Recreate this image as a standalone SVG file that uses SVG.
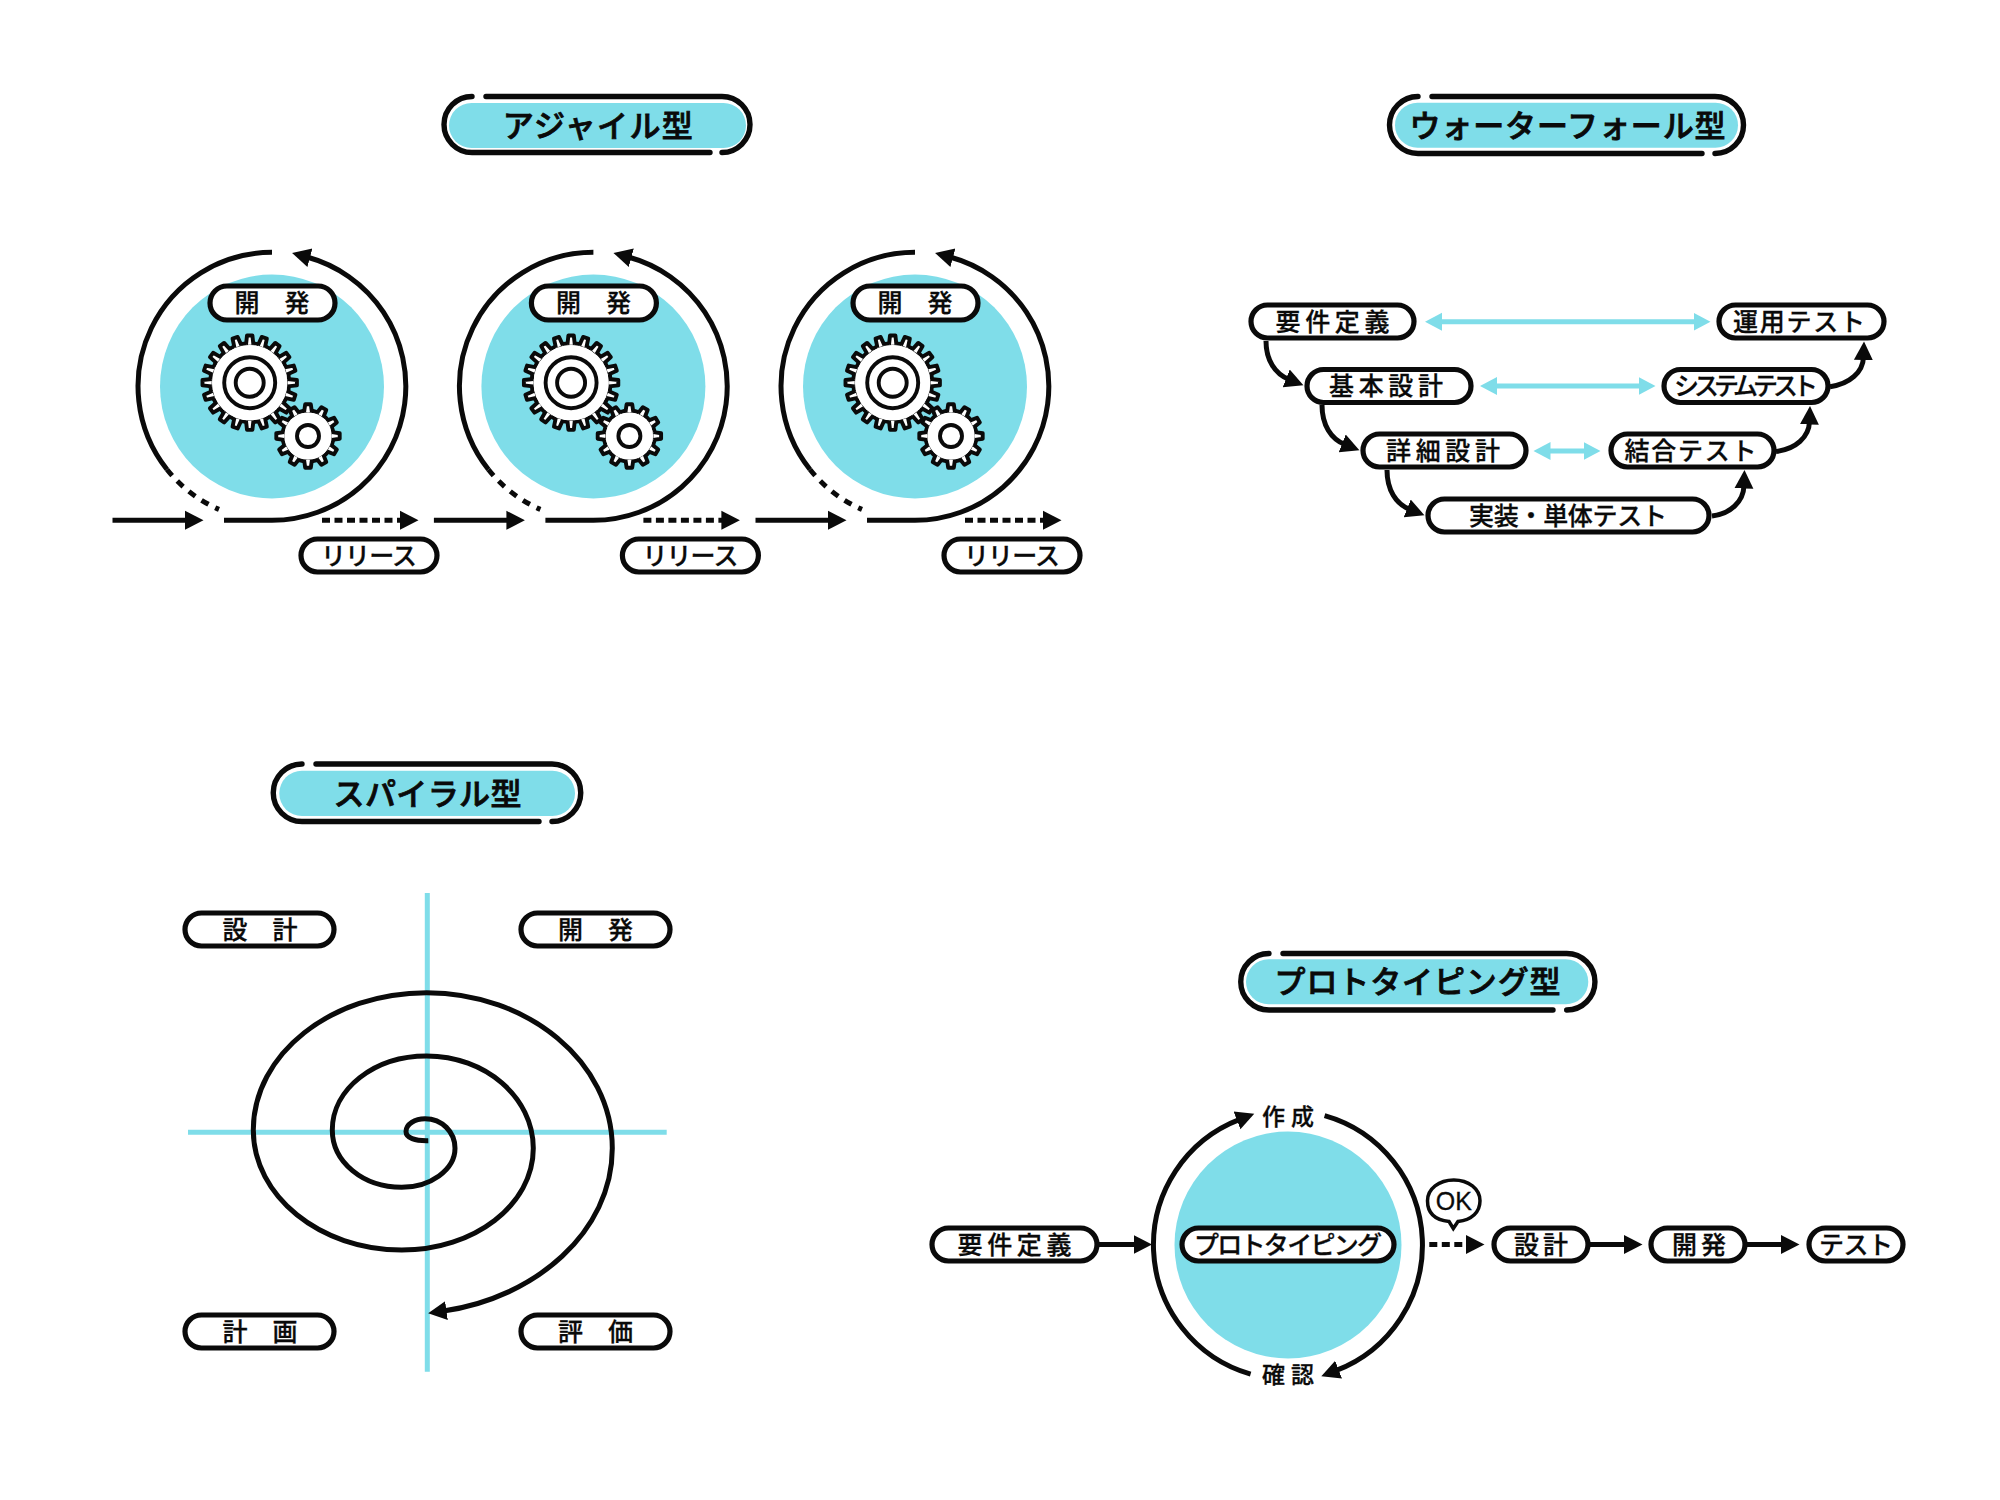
<svg xmlns="http://www.w3.org/2000/svg" xmlns:xlink="http://www.w3.org/1999/xlink" width="2000" height="1500" viewBox="0 0 2000 1500">
<style>
text{font-family:"Noto Sans CJK JP","Noto Sans",sans-serif;font-size:25px;font-weight:500;fill:#0a0a0a;text-anchor:middle;stroke:#0a0a0a;stroke-width:.3px}
.tt{font-size:31px;stroke-width:.8px}
.n{fill:#fff;stroke:#0a0a0a;stroke-width:5.2px}
.o{fill:none;stroke:#0a0a0a;stroke-width:5.4px;stroke-linecap:round}
.tf,.d{fill:#7fdde9}
.c{fill:none;stroke:#0a0a0a;stroke-width:5px}
.a{marker-end:url(#ah)}
.ds{stroke-dasharray:8 4.5}
.cy{fill:none;stroke:#7fdde9;stroke-width:5px}
.cya{marker-start:url(#ahc);marker-end:url(#ahc)}
.g{fill:#fff;stroke:#0a0a0a;stroke-width:3.9px;stroke-linejoin:round}
.w{fill:#fff}
</style>
<defs>
<marker id="ah" markerUnits="userSpaceOnUse" markerWidth="22" markerHeight="22" viewBox="0 0 22 22" refX="3" refY="11" orient="auto"><path d="M0 1.5L18.5 11L0 20.5Z" fill="#0a0a0a"/></marker>
<marker id="ahc" markerUnits="userSpaceOnUse" markerWidth="22" markerHeight="22" viewBox="0 0 22 22" refX="3" refY="11" orient="auto-start-reverse"><path d="M0 2L17 11L0 20Z" fill="#7fdde9"/></marker>
<path id="tb" class="g" d="M-3.7-38L-2.7-47.2H2.7L3.7-38"/>
<path id="ts" class="g" d="M-3.9-24L-2.8-31.7H2.8L3.9-24"/>
<g id="gears">
<g transform="translate(249.7 382.7)">
<circle class="g" r="39.5"/>
<use xlink:href="#tb" transform="rotate(0)"/><use xlink:href="#tb" transform="rotate(18)"/><use xlink:href="#tb" transform="rotate(36)"/><use xlink:href="#tb" transform="rotate(54)"/><use xlink:href="#tb" transform="rotate(72)"/><use xlink:href="#tb" transform="rotate(90)"/><use xlink:href="#tb" transform="rotate(108)"/><use xlink:href="#tb" transform="rotate(126)"/><use xlink:href="#tb" transform="rotate(144)"/><use xlink:href="#tb" transform="rotate(162)"/><use xlink:href="#tb" transform="rotate(180)"/><use xlink:href="#tb" transform="rotate(198)"/><use xlink:href="#tb" transform="rotate(216)"/><use xlink:href="#tb" transform="rotate(234)"/><use xlink:href="#tb" transform="rotate(252)"/><use xlink:href="#tb" transform="rotate(270)"/><use xlink:href="#tb" transform="rotate(288)"/><use xlink:href="#tb" transform="rotate(306)"/><use xlink:href="#tb" transform="rotate(324)"/><use xlink:href="#tb" transform="rotate(342)"/>
<circle class="w" r="37.6"/>
<circle class="g" r="25.5"/><circle class="g" r="14"/>
</g>
<g transform="translate(308 436)">
<circle class="g" r="25.5"/>
<use xlink:href="#ts" transform="rotate(0)"/><use xlink:href="#ts" transform="rotate(30)"/><use xlink:href="#ts" transform="rotate(60)"/><use xlink:href="#ts" transform="rotate(90)"/><use xlink:href="#ts" transform="rotate(120)"/><use xlink:href="#ts" transform="rotate(150)"/><use xlink:href="#ts" transform="rotate(180)"/><use xlink:href="#ts" transform="rotate(210)"/><use xlink:href="#ts" transform="rotate(240)"/><use xlink:href="#ts" transform="rotate(270)"/><use xlink:href="#ts" transform="rotate(300)"/><use xlink:href="#ts" transform="rotate(330)"/>
<circle class="w" r="23.6"/>
<circle class="g" r="11"/>
</g>
</g>
<g id="cycle">
<path class="c" d="M272 252.3A134 134 0 0 0 167 469.5"/>
<path class="c" stroke-dasharray="8 7.5" d="M167 469.5A134 134 0 0 0 219 509.4"/>
<path class="c a" d="M224 520.3H272A134 134 0 0 0 307 257"/>
<path class="c a" d="M112.5 520.3H188"/>
<path class="c a ds" d="M322 520.3H403"/>
</g>
</defs>
<rect width="2000" height="1500" fill="#fff"/>
<g id="backdrops">
<circle class="d" cx="272" cy="386.5" r="112"/>
<circle class="d" cx="593.4" cy="386.5" r="112"/>
<circle class="d" cx="915" cy="386.5" r="112"/>
<circle class="d" cx="1288" cy="1245" r="113.5"/>
</g>
<g id="connectors">
<use xlink:href="#cycle"/>
<use xlink:href="#cycle" x="321.4"/>
<use xlink:href="#cycle" x="643"/>
<path class="cy cya" d="M1439 321.7H1696.5"/>
<path class="cy cya" d="M1494 386H1641.5"/>
<path class="cy cya" d="M1547.5 451H1586.5"/>
<path class="c a" d="M1266 341C1266 360 1275 374 1289 379.5"/>
<path class="c a" d="M1322 405C1322 425 1331 439 1345 444.5"/>
<path class="c a" d="M1387 470C1387 490 1396 504 1410 509.5"/>
<path class="c a" d="M1830 386.7C1850 384 1863 372 1863.5 357"/>
<path class="c a" d="M1776 451.5C1796 449 1809 437 1809.5 421.5"/>
<path class="c a" d="M1712 516C1730 514 1743.5 502 1744 485.5"/>
<path class="cy" d="M427.3 893V1371.7M188 1132.3H666.7"/>
<path class="c a" d="M428.3 1140.7C415 1141 406 1138 406 1131.5C406 1124 415 1118.7 425 1118.7C442 1118.7 455 1132 455 1148.3C455 1170 430 1187.3 401.7 1187.3C363 1187.3 332.3 1162 332.3 1130C332.3 1089 374 1056 426.7 1056C485 1056 533.3 1097 533.3 1148.3C533.3 1205 474 1250 401.7 1250C320 1250 253.3 1196 253.3 1130C253.3 1054 331 992.7 426.7 992.7C528 992.7 612.3 1062 612.3 1148.3C612.3 1232 535 1298 443.5 1311"/>
<path class="c a" d="M1098 1244.5H1136.5"/>
<path class="c a" d="M1250.6 1374.2A134.5 134.5 0 0 1 1239.8 1119.4"/>
<path class="c a" d="M1324.6 1115.6A134.5 134.5 0 0 1 1335.8 1370.7"/>
<path class="c a ds" d="M1429.3 1244.4H1469"/>
<path class="c a" d="M1590 1244.5H1627"/>
<path class="c a" d="M1747 1244.5H1784"/>
</g>
<g id="title-agile">
<rect class="tf" x="449" y="103" width="297" height="45" rx="22.5"/>
<path class="o" d="M486 96.5H722A28 28 0 0 1 722 152.5"/>
<path class="o" d="M710 152.5H472A28 28 0 0 1 472 96.5"/>
<text class="tt" x="597.8" y="136.5" textLength="190">アジャイル型</text>
</g>
<g id="title-waterfall">
<rect class="tf" x="1395" y="102.7" width="343" height="45" rx="22.5"/>
<path class="o" d="M1432 96.5H1715A28.5 28.5 0 0 1 1715 153.5"/>
<path class="o" d="M1702 153.5H1418A28.5 28.5 0 0 1 1418 96.5"/>
<text class="tt" x="1567.5" y="136.5" textLength="316">ウォーターフォール型</text>
</g>
<g id="title-spiral">
<rect class="tf" x="279.3" y="770.7" width="295.7" height="45.3" rx="22.6"/>
<path class="o" d="M316 764H552A28.75 28.75 0 0 1 552 821.5"/>
<path class="o" d="M539 821.5H302A28.75 28.75 0 0 1 302 764"/>
<text class="tt" x="427.5" y="804.5" textLength="188">スパイラル型</text>
</g>
<g id="title-prototyping">
<rect class="tf" x="1246" y="959.3" width="342.3" height="45" rx="22.5"/>
<path class="o" d="M1283 953.5H1566.7A28.25 28.25 0 0 1 1566.7 1010"/>
<path class="o" d="M1553 1010H1269A28.25 28.25 0 0 1 1269 953.5"/>
<text class="tt" x="1417.5" y="993" textLength="286">プロトタイピング型</text>
</g>
<g id="gears-1"><use xlink:href="#gears"/></g>
<g id="gears-2"><use xlink:href="#gears" x="321.4"/></g>
<g id="gears-3"><use xlink:href="#gears" x="643"/></g>
<g id="agile-dev-1"><rect class="n" x="210" y="286" width="125" height="34" rx="17"/><text x="272" y="312">開　発</text></g>
<g id="agile-dev-2"><rect class="n" x="531.4" y="286" width="125" height="34" rx="17"/><text x="593.4" y="312">開　発</text></g>
<g id="agile-dev-3"><rect class="n" x="853" y="286" width="125" height="34" rx="17"/><text x="915" y="312">開　発</text></g>
<g id="agile-rel-1"><rect class="n" x="301" y="539" width="136" height="33" rx="16.5"/><text x="369" y="564.5" textLength="96">リリース</text></g>
<g id="agile-rel-2"><rect class="n" x="622.4" y="539" width="136" height="33" rx="16.5"/><text x="690.4" y="564.5" textLength="96">リリース</text></g>
<g id="agile-rel-3"><rect class="n" x="944" y="539" width="136" height="33" rx="16.5"/><text x="1012" y="564.5" textLength="96">リリース</text></g>
<g id="wf-req"><rect class="n" x="1251" y="305" width="163" height="33" rx="16.5"/><text x="1332.5" y="330.5" textLength="114">要件定義</text></g>
<g id="wf-ops"><rect class="n" x="1719" y="305" width="165" height="33" rx="16.5"/><text x="1799" y="330.5" textLength="132">運用テスト</text></g>
<g id="wf-basic"><rect class="n" x="1307" y="369.5" width="164" height="33" rx="16.5"/><text x="1386" y="395" textLength="114">基本設計</text></g>
<g id="wf-sys"><rect class="n" x="1664" y="369.5" width="164" height="33" rx="16.5"/><text x="1746" y="395" textLength="144">システムテスト</text></g>
<g id="wf-detail"><rect class="n" x="1363" y="434" width="163" height="33" rx="16.5"/><text x="1443" y="459.5" textLength="114">詳細設計</text></g>
<g id="wf-int"><rect class="n" x="1611" y="434" width="163" height="33" rx="16.5"/><text x="1690.5" y="459.5" textLength="132">結合テスト</text></g>
<g id="wf-impl"><rect class="n" x="1428" y="499" width="281" height="33" rx="16.5"/><text x="1568" y="524.5" textLength="198">実装・単体テスト</text></g>
<g id="sp-design"><rect class="n" x="185" y="913" width="149" height="33" rx="16.5"/><text x="260" y="938.5">設　計</text></g>
<g id="sp-dev"><rect class="n" x="521" y="913" width="149" height="33" rx="16.5"/><text x="595.5" y="938.5">開　発</text></g>
<g id="sp-plan"><rect class="n" x="185" y="1315" width="149" height="33" rx="16.5"/><text x="260" y="1340.5">計　画</text></g>
<g id="sp-eval"><rect class="n" x="521" y="1315" width="149" height="33" rx="16.5"/><text x="595.5" y="1340.5">評　価</text></g>
<g id="pt-req"><rect class="n" x="932" y="1228" width="165" height="33" rx="16.5"/><text x="1014.5" y="1253.5" textLength="114">要件定義</text></g>
<g id="pt-main"><rect class="n" x="1182" y="1228" width="212" height="33" rx="16.5"/><text x="1288" y="1253.5" textLength="188">プロトタイピング</text></g>
<g id="pt-make"><text x="1288" y="1125" style="font-size:23px" textLength="52">作成</text></g>
<g id="pt-check"><text x="1288" y="1383" style="font-size:23px" textLength="52">確認</text></g>
<g id="pt-ok"><path d="M1449 1221.5C1434 1220 1427.5 1212 1427.5 1200.8C1427.5 1189 1439 1180 1453.8 1180C1468.5 1180 1480 1189 1480 1200.8C1480 1212 1472 1220 1458 1221.5L1453.3 1228.5Z" fill="#fff" stroke="#0a0a0a" stroke-width="3.5"/><text x="1453.8" y="1210" style="font-family:'Liberation Sans',sans-serif;font-size:25px;font-weight:400">OK</text></g>
<g id="pt-design"><rect class="n" x="1494" y="1228" width="94" height="33" rx="16.5"/><text x="1541" y="1253.5" textLength="54">設計</text></g>
<g id="pt-dev"><rect class="n" x="1651" y="1228" width="94" height="33" rx="16.5"/><text x="1699" y="1253.5" textLength="54">開発</text></g>
<g id="pt-test"><rect class="n" x="1809" y="1228" width="94" height="33" rx="16.5"/><text x="1856" y="1253.5" textLength="74">テスト</text></g>
</svg>
